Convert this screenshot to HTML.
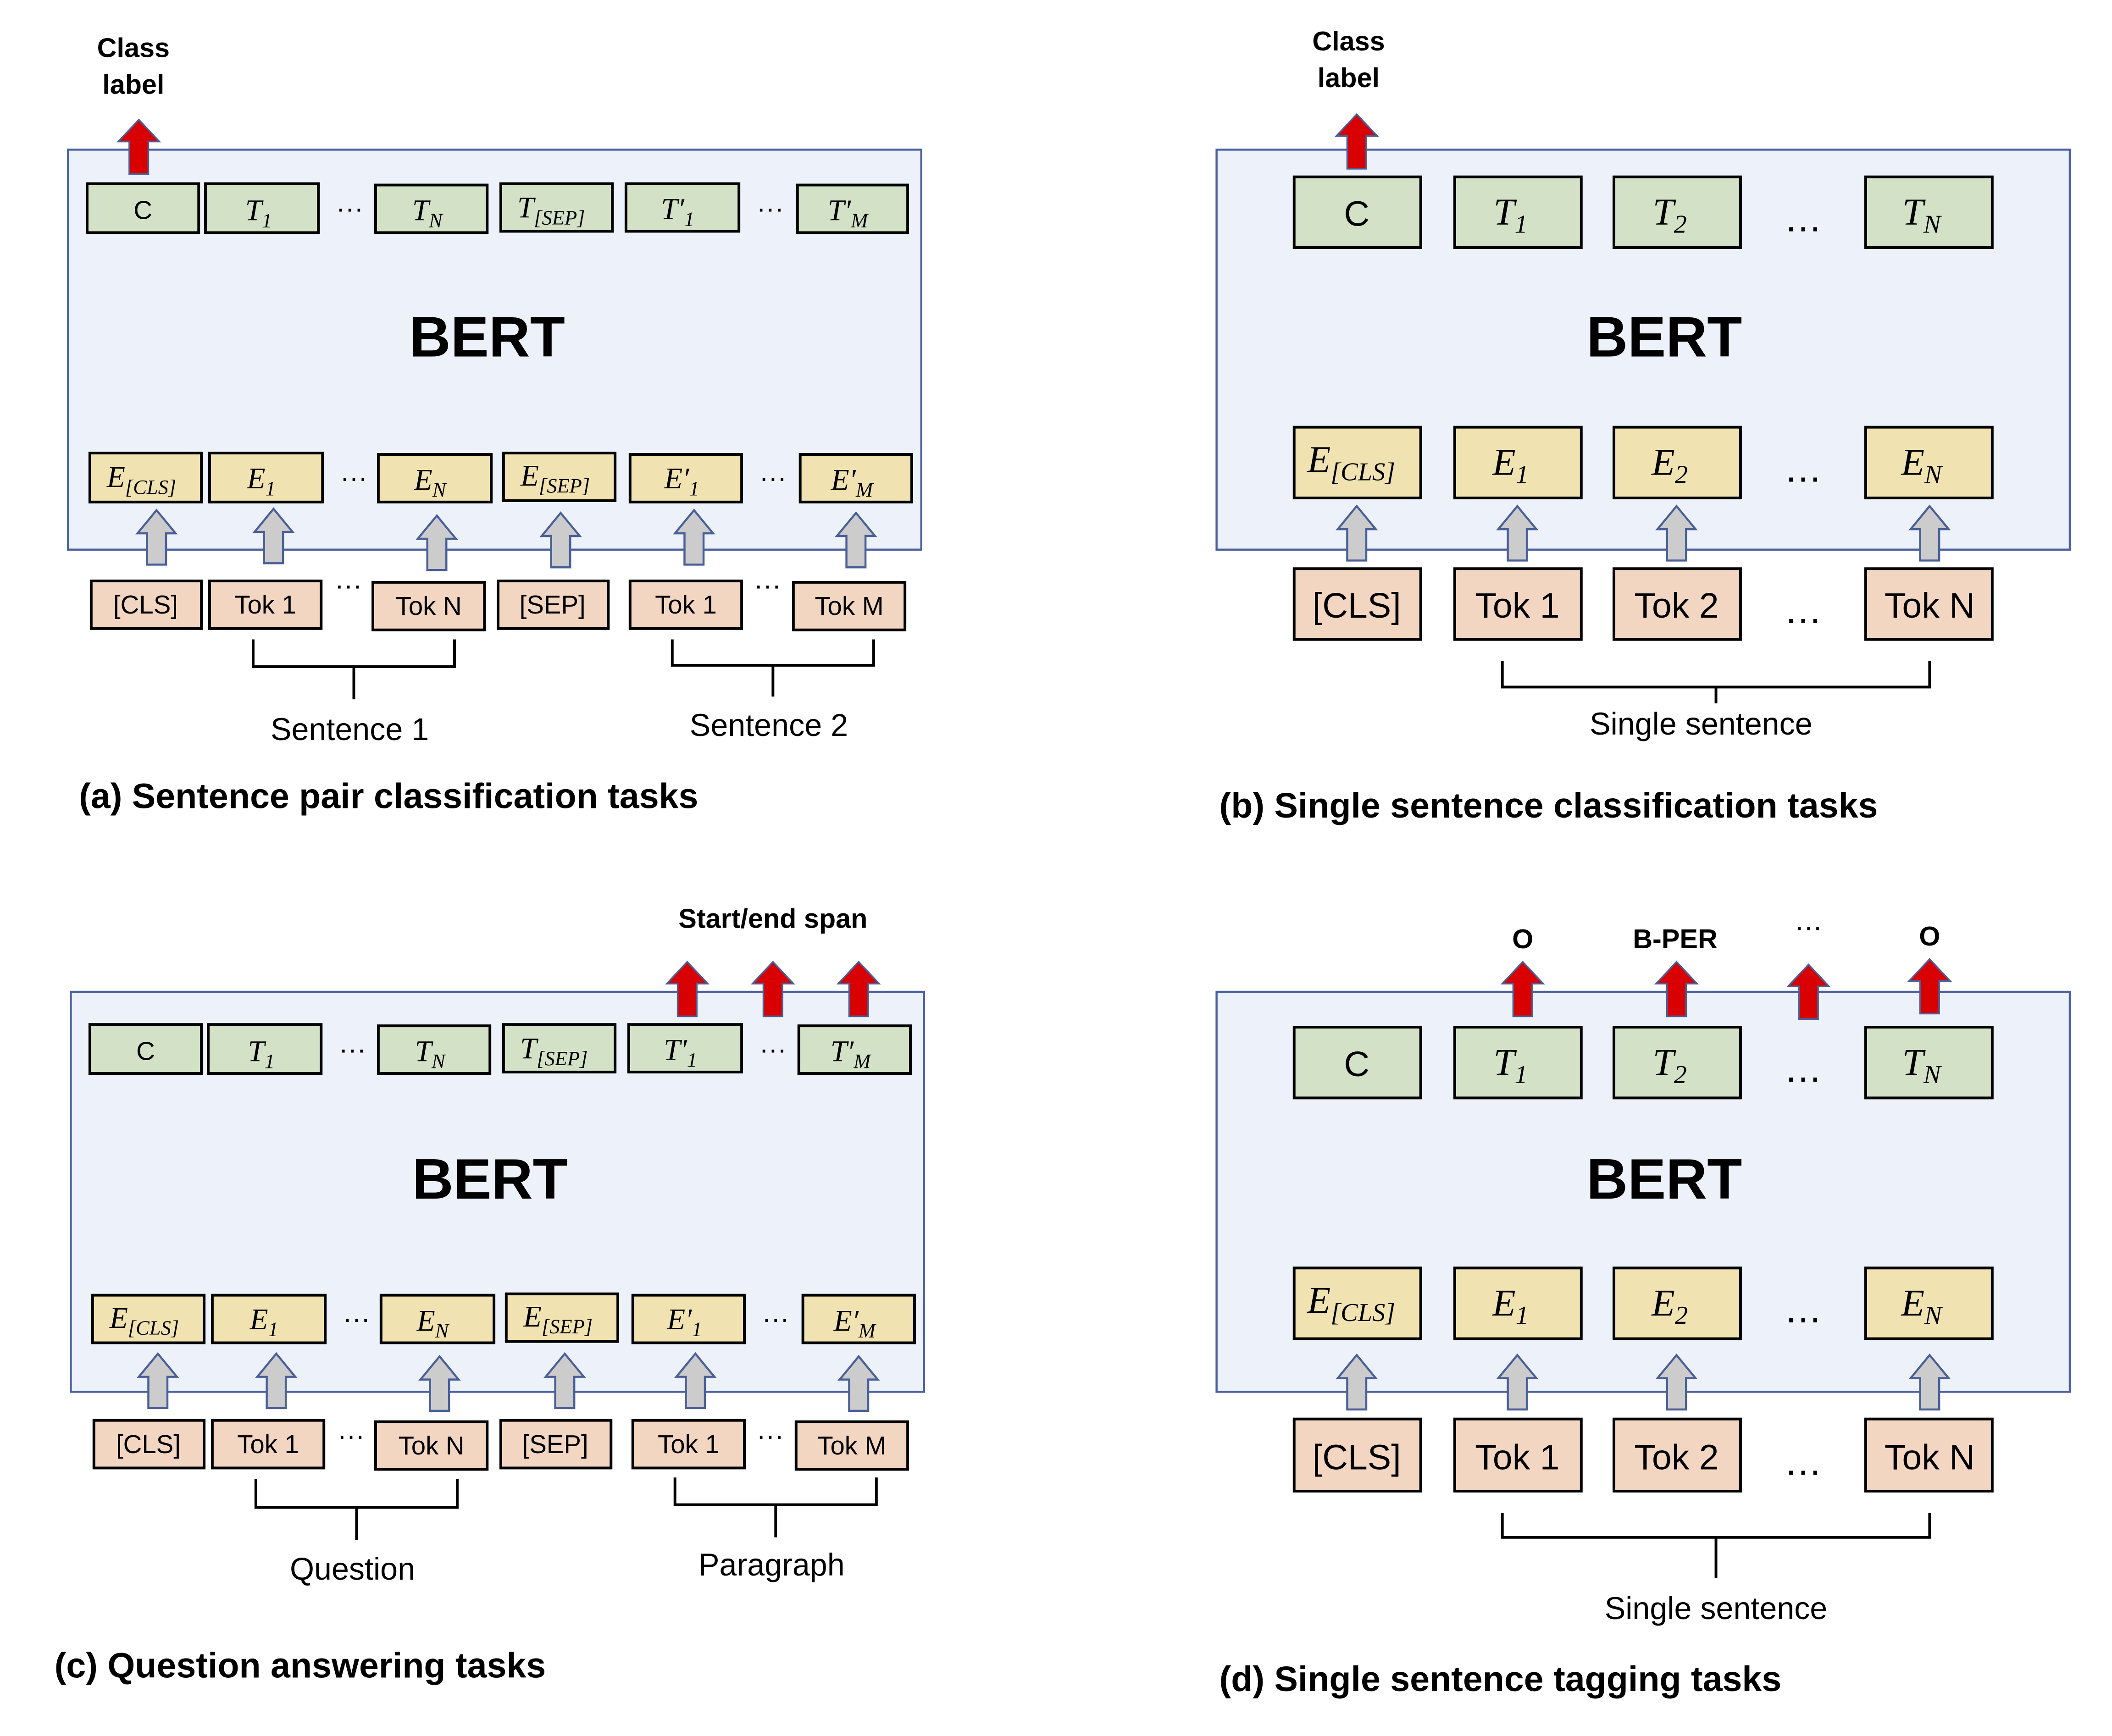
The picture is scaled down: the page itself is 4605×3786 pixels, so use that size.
<!DOCTYPE html>
<html><head><meta charset="utf-8"><style>
html,body{margin:0;padding:0;background:#fff;}
svg{display:block;}
text{font-family:"Liberation Sans",sans-serif;}
.m text,.m tspan{font-family:"Liberation Serif",serif;font-style:italic;}
</style></head><body>
<svg width="4605" height="3786" viewBox="0 0 1552 1276" xmlns="http://www.w3.org/2000/svg">
<defs>
<path id="ga" d="M-7,40 V17 H-14 L0,0 L14,17 H7 V40 Z" fill="#cccccc" stroke="#4a5f98" stroke-width="1.5"/>
<path id="ra" d="M-7,40 V16 H-15 L0,0 L15,16 H7 V40 Z" fill="#d80000" stroke="#4a5f98" stroke-width="1.2"/>
</defs>
<rect width="1552" height="1276" fill="#fff"/>
<g stroke="#000" stroke-width="2">
<rect x="50" y="110" width="627" height="294" fill="#edf2fa" stroke="#4a5fa0" stroke-width="1.5"/>
<g fill="#d3e2c6">
<rect x="64" y="135" width="82" height="36"/><rect x="151" y="135" width="83" height="36"/><rect x="276" y="136" width="82" height="35"/><rect x="368" y="135" width="82" height="35"/><rect x="460" y="135" width="83" height="35"/><rect x="586" y="136" width="81" height="35"/>
</g>
<g fill="#f1e3b1">
<rect x="66" y="333" width="82" height="36"/><rect x="154" y="333" width="83" height="36"/><rect x="278" y="334" width="83" height="35"/><rect x="370" y="333" width="82" height="35"/><rect x="463" y="334" width="82" height="35"/><rect x="588" y="334" width="82" height="35"/>
</g>
<g fill="#f2d6c1">
<rect x="67" y="427" width="81" height="35"/><rect x="154" y="427" width="82" height="35"/><rect x="274" y="428" width="82" height="35"/><rect x="366" y="427" width="81" height="35"/><rect x="463" y="427" width="82" height="35"/><rect x="583" y="428" width="82" height="35"/>
</g>
<path d="M186,470 V490 H334 V470 M260,490 V514 M494,470 V489 H642 V470 M568,489 V512" fill="none"/>
<rect x="52" y="729" width="627" height="294" fill="#edf2fa" stroke="#4a5fa0" stroke-width="1.5"/>
<g fill="#d3e2c6">
<rect x="66" y="753" width="82" height="36"/><rect x="153" y="753" width="83" height="36"/><rect x="278" y="754" width="82" height="35"/><rect x="370" y="753" width="82" height="35"/><rect x="462" y="753" width="83" height="35"/><rect x="587" y="754" width="82" height="35"/>
</g>
<g fill="#f1e3b1">
<rect x="68" y="952" width="82" height="35"/><rect x="156" y="952" width="83" height="35"/><rect x="280" y="952" width="83" height="35"/><rect x="372" y="951" width="82" height="35"/><rect x="465" y="952" width="82" height="35"/><rect x="590" y="952" width="82" height="35"/>
</g>
<g fill="#f2d6c1">
<rect x="69" y="1044" width="81" height="35"/><rect x="156" y="1044" width="82" height="35"/><rect x="276" y="1045" width="82" height="35"/><rect x="368" y="1044" width="81" height="35"/><rect x="465" y="1044" width="82" height="35"/><rect x="585" y="1045" width="82" height="35"/>
</g>
<path d="M188,1087 V1108 H336 V1087 M262,1108 V1132 M496,1086 V1106 H644 V1086 M570,1106 V1130" fill="none"/>
<rect x="894" y="110" width="627" height="294" fill="#edf2fa" stroke="#4a5fa0" stroke-width="1.5"/>
<g fill="#d3e2c6">
<rect x="951" y="130" width="93" height="52"/><rect x="1069" y="130" width="93" height="52"/><rect x="1186" y="130" width="93" height="52"/><rect x="1371" y="130" width="93" height="52"/>
</g>
<g fill="#f1e3b1">
<rect x="951" y="314" width="93" height="52"/><rect x="1069" y="314" width="93" height="52"/><rect x="1186" y="314" width="93" height="52"/><rect x="1371" y="314" width="93" height="52"/>
</g>
<g fill="#f2d6c1">
<rect x="951" y="418" width="93" height="52"/><rect x="1069" y="418" width="93" height="52"/><rect x="1186" y="418" width="93" height="52"/><rect x="1371" y="418" width="93" height="52"/>
</g>
<path d="M1104,486 V505 H1418 V486 M1261,505 V517" fill="none"/>
<rect x="894" y="729" width="627" height="294" fill="#edf2fa" stroke="#4a5fa0" stroke-width="1.5"/>
<g fill="#d3e2c6">
<rect x="951" y="755" width="93" height="52"/><rect x="1069" y="755" width="93" height="52"/><rect x="1186" y="755" width="93" height="52"/><rect x="1371" y="755" width="93" height="52"/>
</g>
<g fill="#f1e3b1">
<rect x="951" y="932" width="93" height="52"/><rect x="1069" y="932" width="93" height="52"/><rect x="1186" y="932" width="93" height="52"/><rect x="1371" y="932" width="93" height="52"/>
</g>
<g fill="#f2d6c1">
<rect x="951" y="1043" width="93" height="53"/><rect x="1069" y="1043" width="93" height="53"/><rect x="1186" y="1043" width="93" height="53"/><rect x="1371" y="1043" width="93" height="53"/>
</g>
<path d="M1104,1112 V1130 H1418 V1112 M1261,1130 V1160" fill="none"/>
</g>
<use href="#ga" x="115" y="375"/><use href="#ga" x="201" y="374"/><use href="#ga" x="321" y="379"/><use href="#ga" x="412" y="377"/><use href="#ga" x="510" y="375"/><use href="#ga" x="629" y="377"/>
<use href="#ga" x="116" y="995"/><use href="#ga" x="203" y="995"/><use href="#ga" x="323" y="997"/><use href="#ga" x="415" y="995"/><use href="#ga" x="511" y="995"/><use href="#ga" x="631" y="997"/>
<use href="#ga" x="997" y="372"/><use href="#ga" x="1115" y="372"/><use href="#ga" x="1232" y="372"/><use href="#ga" x="1418" y="372"/>
<use href="#ga" x="997" y="996"/><use href="#ga" x="1115" y="996"/><use href="#ga" x="1232" y="996"/><use href="#ga" x="1418" y="996"/>
<use href="#ra" x="102" y="88"/><use href="#ra" x="997" y="84"/>
<use href="#ra" x="505" y="707"/><use href="#ra" x="568" y="707"/><use href="#ra" x="631" y="707"/>
<use href="#ra" x="1119" y="707"/><use href="#ra" x="1232" y="707"/><use href="#ra" x="1329" y="709"/><use href="#ra" x="1418" y="705"/>
<g font-weight="bold" text-anchor="middle" font-size="42">
<text x="358" y="262">BERT</text><text x="360" y="881">BERT</text><text x="1223" y="262">BERT</text><text x="1223" y="881">BERT</text>
</g>
<g font-weight="bold" text-anchor="middle" font-size="20">
<text x="98" y="42">Class</text><text x="98" y="69">label</text>
<text x="991" y="37">Class</text><text x="991" y="64">label</text>
<text x="568" y="682">Start/end span</text>
<text x="1119" y="697">O</text><text x="1231" y="697">B-PER</text><text x="1418" y="695">O</text>
<text x="1329" y="688" font-weight="normal">···</text>
</g>
<g font-weight="bold" font-size="26">
<text x="58" y="594">(a) Sentence pair classification tasks</text>
<text x="896" y="601">(b) Single sentence classification tasks</text>
<text x="40" y="1233">(c) Question answering tasks</text>
<text x="896" y="1243">(d) Single sentence tagging tasks</text>
</g>
<g text-anchor="middle" font-size="23">
<text x="257" y="544">Sentence 1</text><text x="565" y="541">Sentence 2</text>
<text x="259" y="1161">Question</text><text x="567" y="1158">Paragraph</text>
<text x="1250" y="540">Single sentence</text><text x="1261" y="1190">Single sentence</text>
</g>
<g text-anchor="middle" font-size="19">
<text x="105" y="161">C</text><text x="107" y="779">C</text>
<text x="107" y="451">[CLS]</text><text x="195" y="451">Tok 1</text><text x="315" y="452">Tok N</text><text x="406" y="451">[SEP]</text><text x="504" y="451">Tok 1</text><text x="624" y="452">Tok M</text>
<text x="109" y="1068">[CLS]</text><text x="197" y="1068">Tok 1</text><text x="317" y="1069">Tok N</text><text x="408" y="1068">[SEP]</text><text x="506" y="1068">Tok 1</text><text x="626" y="1069">Tok M</text>
</g>
<g text-anchor="middle" font-size="26">
<text x="997" y="166">C</text><text x="997" y="791">C</text>
<text x="997" y="454">[CLS]</text><text x="1115" y="454">Tok 1</text><text x="1232" y="454">Tok 2</text><text x="1418" y="454">Tok N</text>
<text x="997" y="1080">[CLS]</text><text x="1115" y="1080">Tok 1</text><text x="1232" y="1080">Tok 2</text><text x="1418" y="1080">Tok N</text>
</g>
<g text-anchor="middle" font-size="20">
<text x="257" y="160">···</text><text x="566" y="160">···</text><text x="260" y="358">···</text><text x="568" y="358">···</text><text x="256" y="437">···</text><text x="564" y="437">···</text>
<text x="259" y="778">···</text><text x="568" y="778">···</text><text x="262" y="976">···</text><text x="570" y="976">···</text><text x="258" y="1062">···</text><text x="566" y="1062">···</text>
</g>
<g text-anchor="middle" font-size="28">
<text x="1325" y="170">…</text><text x="1325" y="354">…</text><text x="1325" y="458">…</text>
<text x="1325" y="795">…</text><text x="1325" y="972">…</text><text x="1325" y="1084">…</text>
</g>
<g class="m" text-anchor="middle" font-size="22">
<text x="190" y="162">T<tspan font-size="15" dy="5">1</tspan></text>
<text x="314" y="162">T<tspan font-size="15" dy="5">N</tspan></text>
<text x="405" y="160">T<tspan font-size="15" dy="5">[SEP]</tspan></text>
<text x="498" y="161">T′<tspan font-size="15" dy="5">1</tspan></text>
<text x="623" y="162">T′<tspan font-size="15" dy="5">M</tspan></text>
<text x="104" y="358">E<tspan font-size="15" dy="5">[CLS]</tspan></text>
<text x="192" y="359">E<tspan font-size="15" dy="5">1</tspan></text>
<text x="316" y="360">E<tspan font-size="15" dy="5">N</tspan></text>
<text x="408" y="357">E<tspan font-size="15" dy="5">[SEP]</tspan></text>
<text x="501" y="359">E′<tspan font-size="15" dy="5">1</tspan></text>
<text x="626" y="360">E′<tspan font-size="15" dy="5">M</tspan></text>
<text x="192" y="780">T<tspan font-size="15" dy="5">1</tspan></text>
<text x="316" y="780">T<tspan font-size="15" dy="5">N</tspan></text>
<text x="407" y="778">T<tspan font-size="15" dy="5">[SEP]</tspan></text>
<text x="500" y="779">T′<tspan font-size="15" dy="5">1</tspan></text>
<text x="625" y="780">T′<tspan font-size="15" dy="5">M</tspan></text>
<text x="106" y="976">E<tspan font-size="15" dy="5">[CLS]</tspan></text>
<text x="194" y="977">E<tspan font-size="15" dy="5">1</tspan></text>
<text x="318" y="978">E<tspan font-size="15" dy="5">N</tspan></text>
<text x="410" y="975">E<tspan font-size="15" dy="5">[SEP]</tspan></text>
<text x="503" y="977">E′<tspan font-size="15" dy="5">1</tspan></text>
<text x="628" y="978">E′<tspan font-size="15" dy="5">M</tspan></text>
</g>
<g class="m" text-anchor="middle" font-size="28">
<text x="1110" y="165">T<tspan font-size="19" dy="6">1</tspan></text>
<text x="1227" y="165">T<tspan font-size="19" dy="6">2</tspan></text>
<text x="1412" y="165">T<tspan font-size="19" dy="6">N</tspan></text>
<text x="993" y="347">E<tspan font-size="19" dy="6">[CLS]</tspan></text>
<text x="1110" y="349">E<tspan font-size="19" dy="6">1</tspan></text>
<text x="1227" y="349">E<tspan font-size="19" dy="6">2</tspan></text>
<text x="1412" y="349">E<tspan font-size="19" dy="6">N</tspan></text>
<text x="1110" y="790">T<tspan font-size="19" dy="6">1</tspan></text>
<text x="1227" y="790">T<tspan font-size="19" dy="6">2</tspan></text>
<text x="1412" y="790">T<tspan font-size="19" dy="6">N</tspan></text>
<text x="993" y="965">E<tspan font-size="19" dy="6">[CLS]</tspan></text>
<text x="1110" y="967">E<tspan font-size="19" dy="6">1</tspan></text>
<text x="1227" y="967">E<tspan font-size="19" dy="6">2</tspan></text>
<text x="1412" y="967">E<tspan font-size="19" dy="6">N</tspan></text>
</g>
</svg>
</body></html>
